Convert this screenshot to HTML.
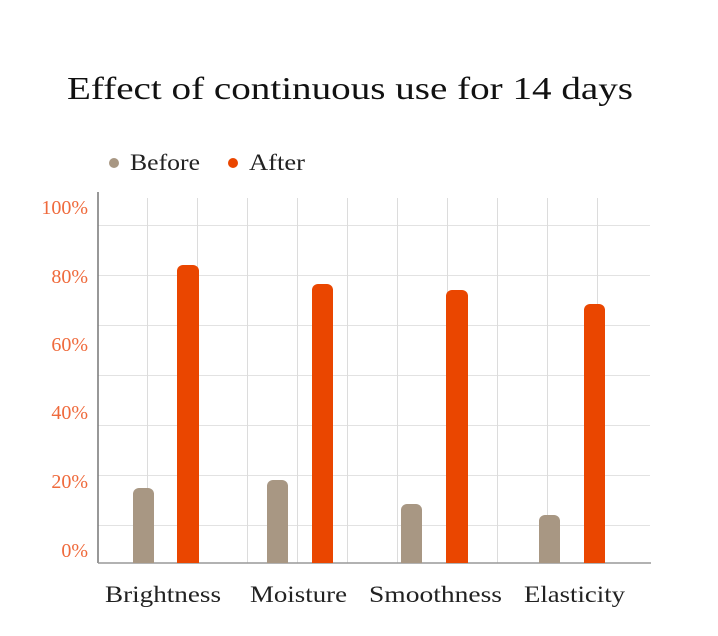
<!DOCTYPE html>
<html><head><meta charset="utf-8"><style>
html,body{margin:0;padding:0;background:#fff;width:718px;height:636px;overflow:hidden}
text{font-family:"Liberation Serif",serif}
</style></head><body>
<svg width="718" height="636" xmlns="http://www.w3.org/2000/svg">
<text x="67" y="99" font-size="32" fill="#111" textLength="566" lengthAdjust="spacingAndGlyphs">Effect of continuous use for 14 days</text>
<circle cx="114" cy="163" r="5" fill="#a89783"/>
<text x="130" y="170" font-size="23" fill="#222" textLength="70" lengthAdjust="spacingAndGlyphs">Before</text>
<circle cx="233" cy="163" r="5" fill="#ea4600"/>
<text x="249" y="170" font-size="23" fill="#222" textLength="56" lengthAdjust="spacingAndGlyphs">After</text>
<g stroke="#e2e2e2" stroke-width="1">
<line x1="98" y1="225.5" x2="650" y2="225.5"/><line x1="98" y1="275.5" x2="650" y2="275.5"/>
<line x1="98" y1="325.5" x2="650" y2="325.5"/><line x1="98" y1="375.5" x2="650" y2="375.5"/>
<line x1="98" y1="425.5" x2="650" y2="425.5"/><line x1="98" y1="475.5" x2="650" y2="475.5"/>
<line x1="98" y1="525.5" x2="650" y2="525.5"/>
</g>
<g stroke="#dcdcdc" stroke-width="1">
<line x1="147.5" y1="198" x2="147.5" y2="563"/><line x1="197.5" y1="198" x2="197.5" y2="563"/>
<line x1="247.5" y1="198" x2="247.5" y2="563"/><line x1="297.5" y1="198" x2="297.5" y2="563"/>
<line x1="347.5" y1="198" x2="347.5" y2="563"/><line x1="397.5" y1="198" x2="397.5" y2="563"/>
<line x1="447.5" y1="198" x2="447.5" y2="563"/><line x1="497.5" y1="198" x2="497.5" y2="563"/>
<line x1="547.5" y1="198" x2="547.5" y2="563"/><line x1="597.5" y1="198" x2="597.5" y2="563"/>
</g>
<line x1="98" y1="192" x2="98" y2="563" stroke="#777" stroke-width="1.5"/>
<line x1="98" y1="563" x2="651" y2="563" stroke="#999" stroke-width="1.5"/>
<g fill="#a89783">
<path d="M133 563V494a6 6 0 0 1 6-6h9a6 6 0 0 1 6 6V563z"/>
<path d="M267 563V486a6 6 0 0 1 6-6h9a6 6 0 0 1 6 6V563z"/>
<path d="M401 563V510a6 6 0 0 1 6-6h9a6 6 0 0 1 6 6V563z"/>
<path d="M539 563V521a6 6 0 0 1 6-6h9a6 6 0 0 1 6 6V563z"/>
</g>
<g fill="#ea4600">
<path d="M177 563V271a6 6 0 0 1 6-6h10a6 6 0 0 1 6 6V563z"/>
<path d="M312 563V290a6 6 0 0 1 6-6h9a6 6 0 0 1 6 6V563z"/>
<path d="M446 563V296a6 6 0 0 1 6-6h10a6 6 0 0 1 6 6V563z"/>
<path d="M584 563V310a6 6 0 0 1 6-6h9a6 6 0 0 1 6 6V563z"/>
</g>
<g font-size="20" fill="#ef6a3c" text-anchor="end">
<text x="88" y="214">100%</text><text x="88" y="283">80%</text>
<text x="88" y="351">60%</text><text x="88" y="419">40%</text>
<text x="88" y="488">20%</text><text x="88" y="557">0%</text>
</g>
<g font-size="23" fill="#222">
<text x="105" y="602" textLength="116" lengthAdjust="spacingAndGlyphs">Brightness</text>
<text x="250" y="602" textLength="97" lengthAdjust="spacingAndGlyphs">Moisture</text>
<text x="369" y="602" textLength="133" lengthAdjust="spacingAndGlyphs">Smoothness</text>
<text x="524" y="602" textLength="101" lengthAdjust="spacingAndGlyphs">Elasticity</text>
</g>
</svg>
</body></html>
